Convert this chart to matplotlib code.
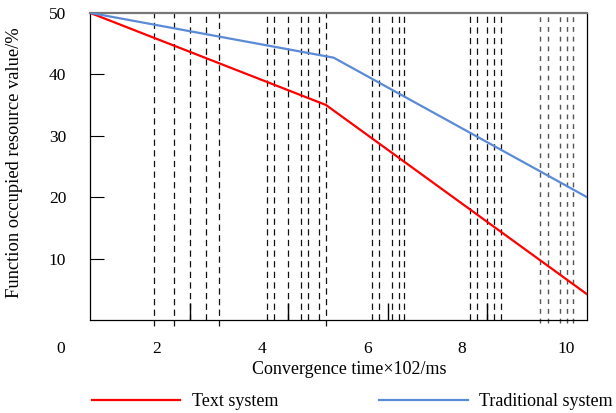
import matplotlib.pyplot as plt

# Convergence time (x) and occupied resource value (%)
text_x = [0.70, 5.32, 10.43]
text_y = [50.0, 35.0, 4.2]
trad_x = [0.70, 5.47, 10.43]
trad_y = [50.0, 42.7, 20.0]

# dashed reference lines
dash_x = [1.95, 2.35, 2.66, 2.97, 3.23,
          4.17, 4.31, 4.57, 4.84, 4.97, 5.19, 5.32,
          6.22, 6.35, 6.62, 6.74, 6.84,
          8.14, 8.27, 8.48, 8.61, 8.75]
dash_x_grey = [9.51, 9.66, 9.90, 10.03, 10.16]
dash_long = [1.95, 2.35, 3.23, 5.32]

# tick labels
x_labels = ['0', '2', '4', '6', '8', '10']
x_label_pos = [0.13, 2.0, 4.07, 6.14, 7.98, 10.03]
y_ticks = [10, 20, 30, 40, 50]
minor_ticks = [2.66, 4.57, 6.53, 8.48]

plt.rcParams['font.family'] = ['Liberation Serif', 'DejaVu Serif']

fig = plt.figure(figsize=(6.16, 4.13), dpi=100)
ax = fig.add_axes([0.146, 0.225, 0.807, 0.744])

for x in dash_x:
    lo = -0.9 if x in dash_long else 0
    ax.plot([x, x], [lo, 50], color='#111111', lw=0.9, ls=(0, (5, 3.5)), clip_on=False, zorder=1)
for x in dash_x_grey:
    ax.plot([x, x], [-0.4, 50], color='#555555', lw=1.0, ls=(0, (3.5, 3.5)), clip_on=False, zorder=1)

ax.plot(text_x, text_y, color='#ff0000', lw=1.6, label='Text system', zorder=3)
ax.plot(trad_x, trad_y, color='#5b8ad6', lw=1.6, label='Traditional system', zorder=3)

ax.set_xlim(0.70, 10.43)
ax.set_ylim(0, 50)

ax.set_yticks(y_ticks)
ax.tick_params(axis='y', direction='in', length=10, width=0.8, pad=17, labelsize=12.5)
ax.set_xticks([])
ax.set_xticks(minor_ticks, minor=True)
ax.tick_params(axis='x', which='minor', direction='in', length=12, width=1.0)

for pos, lab in zip(x_label_pos, x_labels):
    ax.text(pos, -0.0945, lab, transform=ax.get_xaxis_transform(), ha='center', va='center', fontsize=12.5)

ax.set_xlabel('Convergence time×102/ms', fontsize=13, va='center')
ax.xaxis.set_label_coords(0.522, -0.16)
ax.set_ylabel('Function occupied resource value/%', fontsize=13.3)
ax.yaxis.set_label_coords(-0.135, 0.513)

for s in ['left', 'bottom', 'right']:
    ax.spines[s].set_color('black')
    ax.spines[s].set_linewidth(0.9)
ax.spines['top'].set_color('#777777')
ax.spines['top'].set_linewidth(1.6)

fig.legend(loc='center left', bbox_to_anchor=(0.149, 0.027), ncol=2, frameon=False, fontsize=13,
           borderpad=0, borderaxespad=0, handlelength=4.9, columnspacing=5.6, handletextpad=0.63)

fig.savefig('out.png', dpi=100)
